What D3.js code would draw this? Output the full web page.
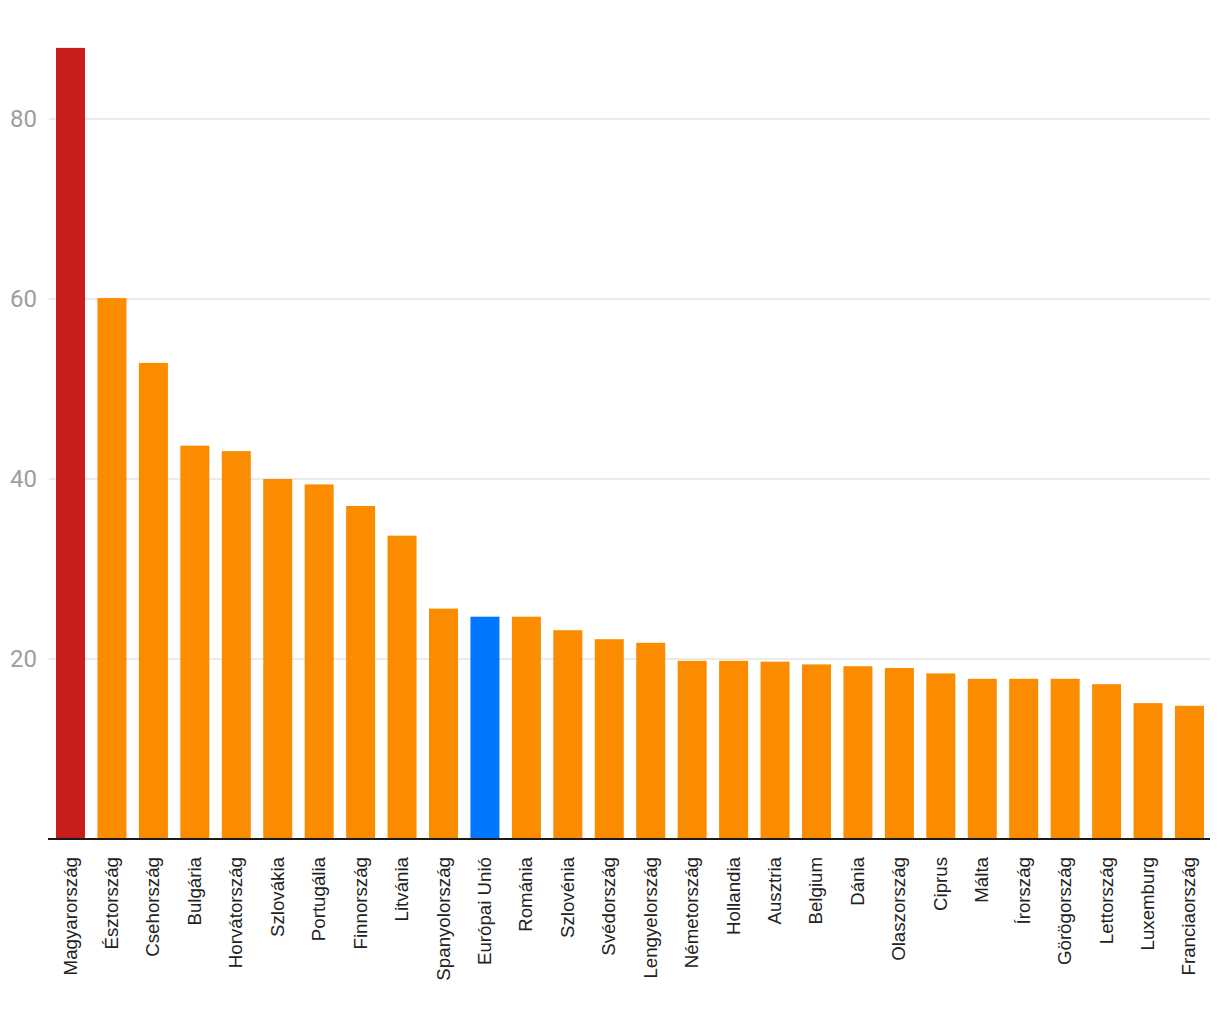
<!DOCTYPE html>
<html><head><meta charset="utf-8">
<script src="https://cdn.jsdelivr.net/npm/d3@7"></script>
<style>body{margin:0;background:#fff;}</style>
</head><body>
<svg id="c" width="1220" height="1020"></svg>
<script>
const categories = ["Magyarország","Észtország","Csehország","Bulgária","Horvátország","Szlovákia","Portugália","Finnország","Litvánia","Spanyolország","Európai Unió","Románia","Szlovénia","Svédország","Lengyelország","Németország","Hollandia","Ausztria","Belgium","Dánia","Olaszország","Ciprus","Málta","Írország","Görögország","Lettország","Luxemburg","Franciaország"];
const values = [87.9,60.1,52.9,43.7,43.1,40.0,39.4,37.0,33.7,25.6,24.7,24.7,23.2,22.2,21.8,19.8,19.8,19.7,19.4,19.2,19.0,18.4,17.8,17.8,17.8,17.2,15.1,14.8];
const yTicks = [20,40,60,80];
const highlight = {"Magyarország":"#c91c1c","Európai Unió":"#0077ff"};
const baseColor = "#fb8c00";

const svg = d3.select("#c");
const x = d3.scaleBand().domain(categories).range([49.8,1210.2]).paddingInner(0.3).paddingOuter(0.15);
const y = d3.scaleLinear().domain([0,80]).range([839,119]);

// gridlines
svg.append("g").selectAll("line").data(yTicks).join("line")
  .attr("x1",49).attr("x2",1210)
  .attr("y1",d=>y(d)).attr("y2",d=>y(d))
  .attr("stroke","#e5e5e5").attr("stroke-width",1.5);

// y labels
svg.append("g").selectAll("text").data(yTicks).join("text")
  .attr("x",37).attr("y",d=>y(d)).attr("dy","0.35em")
  .attr("text-anchor","end")
  .attr("font-family","Roboto").attr("font-size",24).attr("fill","#9e9e9e")
  .text(d=>d);

// bars
svg.append("g").selectAll("rect").data(categories).join("rect")
  .attr("x",d=>x(d)).attr("width",x.bandwidth())
  .attr("y",(d,i)=>y(values[i])).attr("height",(d,i)=>y(0)-y(values[i]))
  .attr("fill",d=>highlight[d]||baseColor);

// baseline
svg.append("line").attr("x1",48).attr("x2",1210).attr("y1",839).attr("y2",839)
  .attr("stroke","#1a1a1a").attr("stroke-width",2);

// x labels
svg.append("g").selectAll("text").data(categories).join("text")
  .attr("transform",d=>`translate(${x(d)+x.bandwidth()/2+6},857) rotate(-90)`)
  .attr("text-anchor","end")
  .attr("font-family","Liberation Sans, Arial").attr("font-size",18.7).attr("fill","#222")
  .text(d=>d);
</script>
</body></html>
